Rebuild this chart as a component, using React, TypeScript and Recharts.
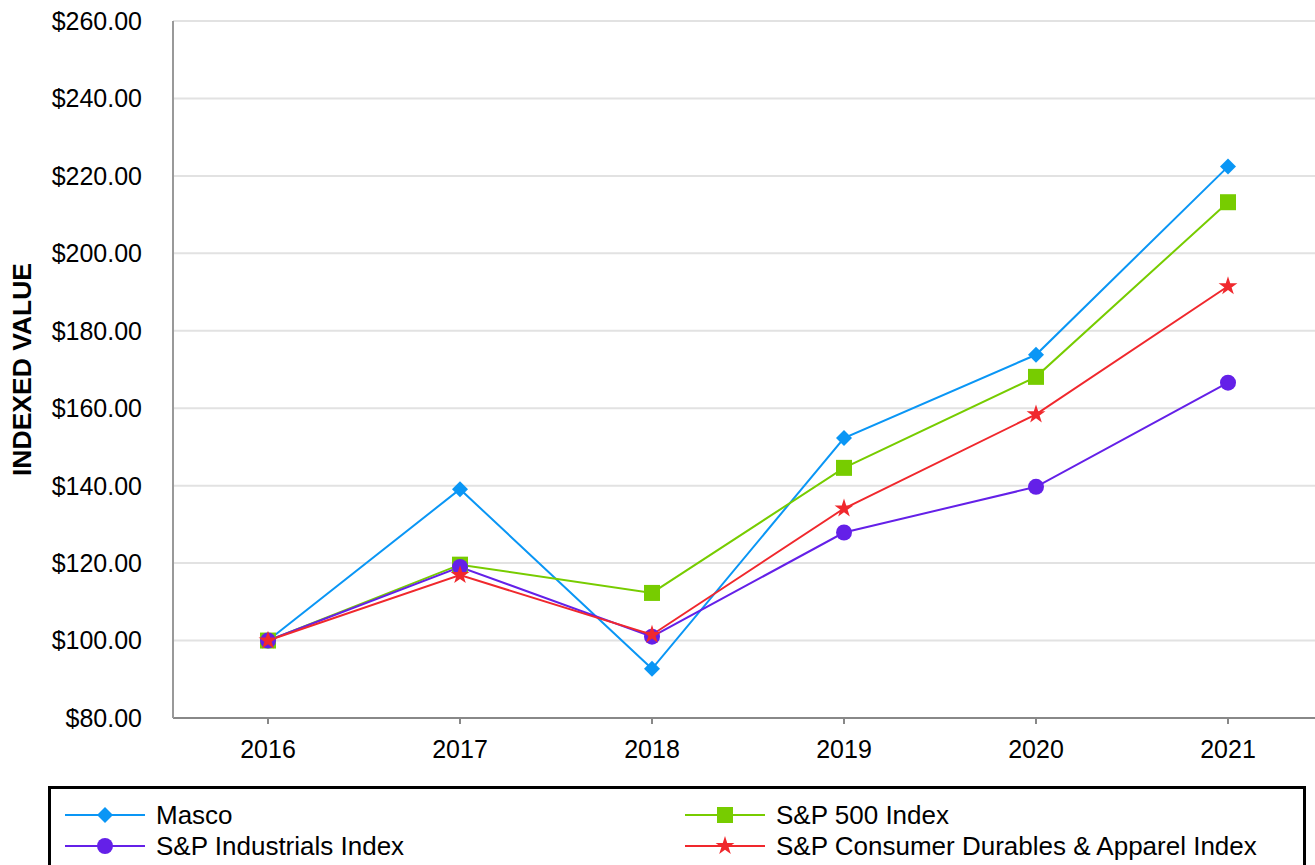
import React from 'react'
import { LineChart, Line, XAxis, YAxis, CartesianGrid, Symbols } from 'recharts'

const YEARS = ['2016', '2017', '2018', '2019', '2020', '2021']
const MASCO = [100.0, 139.1, 92.7, 152.3, 173.8, 222.4]
const SP500 = [100.0, 119.6, 112.3, 144.6, 168.1, 213.2]
const INDUSTRIALS = [100.0, 119.0, 101.0, 127.9, 139.7, 166.6]
const CONSUMER = [100.0, 116.9, 101.5, 134.1, 158.4, 191.5]
const Y_TICKS = [80, 100, 120, 140, 160, 180, 200, 220, 240, 260]

const FONT = '"Liberation Sans", Arial, Helvetica, sans-serif'

const data = YEARS.map((year, i) => ({
  year,
  masco: MASCO[i],
  sp500: SP500[i],
  industrials: INDUSTRIALS[i],
  consumer: CONSUMER[i],
}))

type Shape = 'diamond' | 'square' | 'circle' | 'star'

function Marker({ cx, cy, shape, color }: { cx: number; cy: number; shape: Shape; color: string }) {
  if (cx == null || cy == null) return null
  if (shape === 'diamond') {
    const r = 8
    return <polygon points={`${cx},${cy - r} ${cx + r},${cy} ${cx},${cy + r} ${cx - r},${cy}`} fill={color} />
  }
  if (shape === 'square') {
    return <rect x={cx - 8} y={cy - 8} width={16} height={16} fill={color} />
  }
  if (shape === 'circle') {
    return <circle cx={cx} cy={cy} r={8} fill={color} />
  }
  return <Symbols cx={cx} cy={cy} type="star" size={110} fill={color} />
}

const SERIES: { key: string; name: string; color: string; shape: Shape }[] = [
  { key: 'masco', name: 'Masco', color: '#0a96f5', shape: 'diamond' },
  { key: 'sp500', name: 'S&P 500 Index', color: '#77cc00', shape: 'square' },
  { key: 'industrials', name: 'S&P Industrials Index', color: '#6420e8', shape: 'circle' },
  { key: 'consumer', name: 'S&P Consumer Durables & Apparel Index', color: '#f0282d', shape: 'star' },
]

const LEGEND_POS: Record<string, { left: number; top: number }> = {
  masco: { left: 65, top: 815 },
  sp500: { left: 685, top: 815 },
  industrials: { left: 65, top: 846 },
  consumer: { left: 685, top: 846 },
}

function LegendBox() {
  return (
    <div
      style={{
        position: 'absolute',
        left: 48,
        top: 786,
        width: 1252,
        height: 100,
        border: '3px solid #000',
      }}
    >
      {SERIES.map((s) => {
        const p = LEGEND_POS[s.key]
        return (
          <div
            key={s.key}
            style={{
              position: 'absolute',
              left: p.left - 51,
              top: p.top - 789 - 14,
              height: 28,
              display: 'flex',
              alignItems: 'center',
              fontFamily: FONT,
              fontSize: 26,
              color: '#000',
              whiteSpace: 'nowrap',
            }}
          >
            <svg width={80} height={28} style={{ marginRight: 11 }}>
              <line x1={0} y1={14} x2={80} y2={14} stroke={s.color} strokeWidth={2} />
              <Marker cx={40} cy={14} shape={s.shape} color={s.color} />
            </svg>
            {s.name}
          </div>
        )
      })}
    </div>
  )
}

export default function App() {
  return (
    <div style={{ position: 'absolute', left: 0, top: 0, width: 1315, height: 865, overflow: 'hidden', background: '#fff' }}>
      <LineChart
        width={1324}
        height={780}
        data={data}
        margin={{ top: 21, right: 0, bottom: 0, left: 0 }}
      >
        <CartesianGrid vertical={false} stroke="#e2e2e2" strokeWidth={2} />
        <XAxis
          dataKey="year"
          stroke="#888"
          strokeWidth={2}
          padding={{ left: 95, right: 96 }}
          tickSize={6}
          tickMargin={16}
          height={62}
          tick={{ fill: '#000', fontSize: 25, fontFamily: FONT }}
        />
        <YAxis
          domain={[80, 260]}
          ticks={Y_TICKS}
          width={173}
          stroke="#999"
          strokeWidth={2}
          tickLine={false}
          tickSize={6}
          tickMargin={25}
          tickFormatter={(v: number) => `$${v.toFixed(2)}`}
          tick={{ fill: '#000', fontSize: 25, fontFamily: FONT }}
          label={(props: any) => {
            const vb = props.viewBox || { y: 21, height: 697 }
            const cy = vb.y + vb.height / 2
            return (
              <text
                x={31}
                y={cy}
                transform={`rotate(-90, 31, ${cy})`}
                textAnchor="middle"
                fontFamily={FONT}
                fontSize={26.5}
                fontWeight="bold"
                fill="#000"
              >
                INDEXED VALUE
              </text>
            )
          }}
        />
        {SERIES.map((s) => (
          <Line
            key={s.key}
            type="linear"
            dataKey={s.key}
            name={s.name}
            stroke={s.color}
            strokeWidth={2}
            isAnimationActive={false}
            dot={(props: any) => (
              <Marker key={`${s.key}-${props.index}`} cx={props.cx} cy={props.cy} shape={s.shape} color={s.color} />
            )}
            activeDot={false}
          />
        ))}
      </LineChart>
      <LegendBox />
    </div>
  )
}
